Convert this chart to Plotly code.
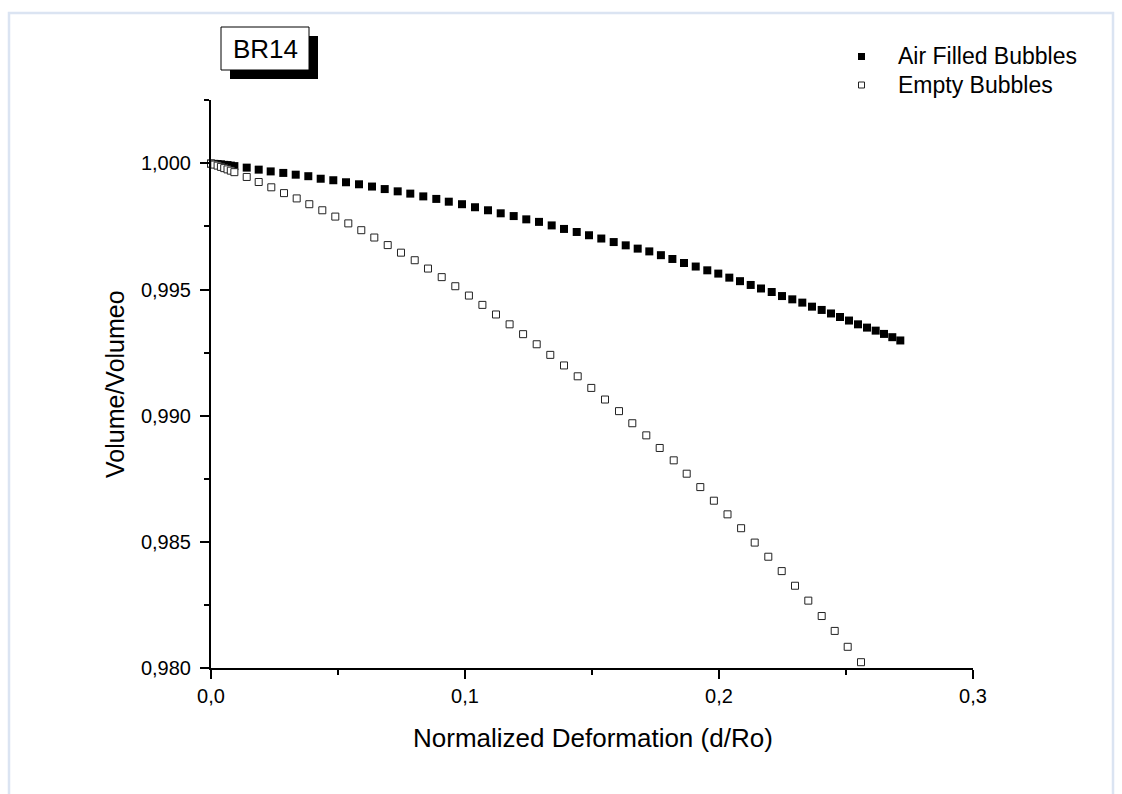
import plotly.graph_objects as go

# Air Filled Bubbles (filled squares)
air_x = [0.0, 0.0013, 0.0026, 0.0039, 0.0052, 0.0065, 0.0078, 0.0092,
         0.01406, 0.01878, 0.02350, 0.02846, 0.03335, 0.03831, 0.04319, 0.04815,
         0.05315, 0.05827, 0.06339, 0.06839, 0.07350, 0.07846, 0.08358, 0.08870,
         0.09362, 0.09882, 0.10394, 0.10906, 0.11406, 0.11917, 0.12413, 0.12913,
         0.13413, 0.13898, 0.14398, 0.14882, 0.15366, 0.15854, 0.16327, 0.16799,
         0.17256, 0.17713, 0.18165, 0.18622, 0.19083, 0.19539, 0.19972, 0.20406,
         0.20827, 0.21248, 0.21654, 0.22075, 0.22480, 0.22886, 0.23280, 0.23661,
         0.24043, 0.24409, 0.24764, 0.25118, 0.25472, 0.25827, 0.26169, 0.26496,
         0.26823, 0.27138]
air_y = [0.99999, 0.99998, 0.99997, 0.99996, 0.99994, 0.99993, 0.99991, 0.99989,
         0.99983, 0.99975, 0.99968, 0.99962, 0.99955, 0.99949, 0.99939, 0.99933,
         0.99925, 0.99917, 0.99908, 0.99898, 0.99889, 0.99880, 0.99869, 0.99859,
         0.99848, 0.99838, 0.99826, 0.99814, 0.99802, 0.99791, 0.99778, 0.99768,
         0.99754, 0.99740, 0.99728, 0.99715, 0.99702, 0.99688, 0.99675, 0.99662,
         0.99651, 0.99636, 0.99621, 0.99605, 0.99591, 0.99576, 0.99563, 0.99547,
         0.99533, 0.99518, 0.99504, 0.99490, 0.99474, 0.99461, 0.99448, 0.99432,
         0.99419, 0.99405, 0.99391, 0.99377, 0.99362, 0.99349, 0.99337, 0.99324,
         0.99311, 0.99298]

# Empty Bubbles (open squares)
empty_x = [0.0, 0.0013, 0.0026, 0.0039, 0.0052, 0.0065, 0.0078, 0.0092,
           0.01406, 0.01878, 0.02374, 0.02874, 0.03374, 0.03870, 0.04382, 0.04894,
           0.05406, 0.05917, 0.06429, 0.06957, 0.07480, 0.08020, 0.08543, 0.09083,
           0.09618, 0.10154, 0.10685, 0.11220, 0.11756, 0.12287, 0.12823, 0.13358,
           0.13898, 0.14437, 0.14972, 0.15512, 0.16063, 0.16587, 0.17138, 0.17665,
           0.18217, 0.18728, 0.19264, 0.19799, 0.20335, 0.20870, 0.21406, 0.21941,
           0.22469, 0.22992, 0.23516, 0.24043, 0.24555, 0.25067, 0.25591]
empty_y = [0.99999, 0.99995, 0.99991, 0.99986, 0.99981, 0.99976, 0.99971, 0.99965,
           0.99946, 0.99926, 0.99905, 0.99882, 0.99861, 0.99838, 0.99814, 0.99789,
           0.99762, 0.99735, 0.99706, 0.99676, 0.99646, 0.99616, 0.99583, 0.99549,
           0.99513, 0.99476, 0.99439, 0.99401, 0.99362, 0.99323, 0.99283, 0.99241,
           0.99199, 0.99156, 0.99110, 0.99064, 0.99018, 0.98970, 0.98922, 0.98872,
           0.98823, 0.98770, 0.98717, 0.98663, 0.98609, 0.98554, 0.98497, 0.98441,
           0.98384, 0.98326, 0.98267, 0.98206, 0.98147, 0.98084, 0.98023]

series_names = ["Air Filled Bubbles", "Empty Bubbles"]
x_title = "Normalized Deformation (d/Ro)"
y_title = "Volume/Volumeo"
label = "BR14"

FONT = "Liberation Sans, Arial, sans-serif"

fig = go.Figure()
fig.add_trace(go.Scatter(
    x=air_x, y=air_y, mode="markers", name=series_names[0],
    marker=dict(symbol="square", size=8, color="black", line=dict(width=0)),
    showlegend=False, cliponaxis=False, hoverinfo="skip"))
fig.add_trace(go.Scatter(
    x=empty_x, y=empty_y, mode="markers", name=series_names[1],
    marker=dict(symbol="square", size=7, color="white", line=dict(width=1, color="#222")),
    showlegend=False, cliponaxis=False, hoverinfo="skip"))

axis_common = dict(
    showline=True, linewidth=2, linecolor="black",
    ticks="outside", ticklen=9, tickwidth=2, tickcolor="black",
    showgrid=False, zeroline=False, mirror=False,
    tickfont=dict(family=FONT, size=20, color="black"),
)
fig.update_xaxes(range=[0, 0.3], tick0=0, dtick=0.1, tickformat=".1f",
                 minor=dict(dtick=0.05, tick0=0, ticklen=5, tickwidth=2, ticks="outside", tickcolor="black"),
                 **axis_common)
fig.update_yaxes(range=[0.98, 1.00251], tick0=0.98, dtick=0.005, tickformat=".3f",
                 ticklabelstandoff=5,
                 minor=dict(dtick=0.0025, tick0=0.98, ticklen=5, tickwidth=2, ticks="outside", tickcolor="black"),
                 **axis_common)

L, R, T, B = 211, 149, 100, 126
W, H = 1122, 794
pw, ph = W - L - R, H - T - B

def px(x):
    return (x - L) / pw

def py(y):
    return (H - B - y) / ph

shapes = []
# page frame
shapes.append(dict(type="rect", xref="paper", yref="paper",
                   x0=px(9), x1=px(1113), y0=py(13), y1=py(800),
                   line=dict(color="#dbe4f2", width=2.5), fillcolor="rgba(0,0,0,0)", layer="below"))
# BR14 shadow and box
shapes.append(dict(type="rect", xref="paper", yref="paper",
                   x0=px(230), x1=px(318), y0=py(36), y1=py(79),
                   line=dict(width=0), fillcolor="black"))
shapes.append(dict(type="rect", xref="paper", yref="paper",
                   x0=px(221), x1=px(309), y0=py(27), y1=py(70),
                   line=dict(width=1, color="black"), fillcolor="white"))
# legend symbols
shapes.append(dict(type="rect", xref="paper", yref="paper",
                   x0=px(858), x1=px(865), y0=py(53), y1=py(60),
                   line=dict(width=0), fillcolor="black"))
shapes.append(dict(type="rect", xref="paper", yref="paper",
                   x0=px(858.5), x1=px(864.5), y0=py(82), y1=py(88),
                   line=dict(width=1, color="#222"), fillcolor="white"))

annotations = [
    dict(text=label, x=px(265), y=py(48.5), xref="paper", yref="paper",
         showarrow=False, xanchor="center", yanchor="middle",
         font=dict(family=FONT, size=26, color="black")),
    dict(text=series_names[0], x=px(896), y=py(56), xref="paper", yref="paper",
         showarrow=False, xanchor="left", yanchor="middle",
         font=dict(family=FONT, size=23, color="black")),
    dict(text=series_names[1], x=px(896), y=py(85), xref="paper", yref="paper",
         showarrow=False, xanchor="left", yanchor="middle",
         font=dict(family=FONT, size=23, color="black")),
    dict(text=x_title, x=px(593), y=py(738), xref="paper", yref="paper",
         showarrow=False, xanchor="center", yanchor="middle",
         font=dict(family=FONT, size=26, color="black")),
    dict(text=y_title, x=px(115), y=py(384), xref="paper", yref="paper",
         showarrow=False, xanchor="center", yanchor="middle", textangle=-90,
         font=dict(family=FONT, size=25, color="black")),
]

fig.update_layout(
    width=W, height=H,
    margin=dict(l=L, r=R, t=T, b=B, pad=0),
    paper_bgcolor="white", plot_bgcolor="white",
    separators=", ",
    shapes=shapes, annotations=annotations,
    showlegend=False,
    font=dict(family=FONT, color="black"),
)

fig.write_html("out.html", config={"displayModeBar": False},
               post_script="document.body.style.margin='0px';document.body.style.overflow='hidden';")
